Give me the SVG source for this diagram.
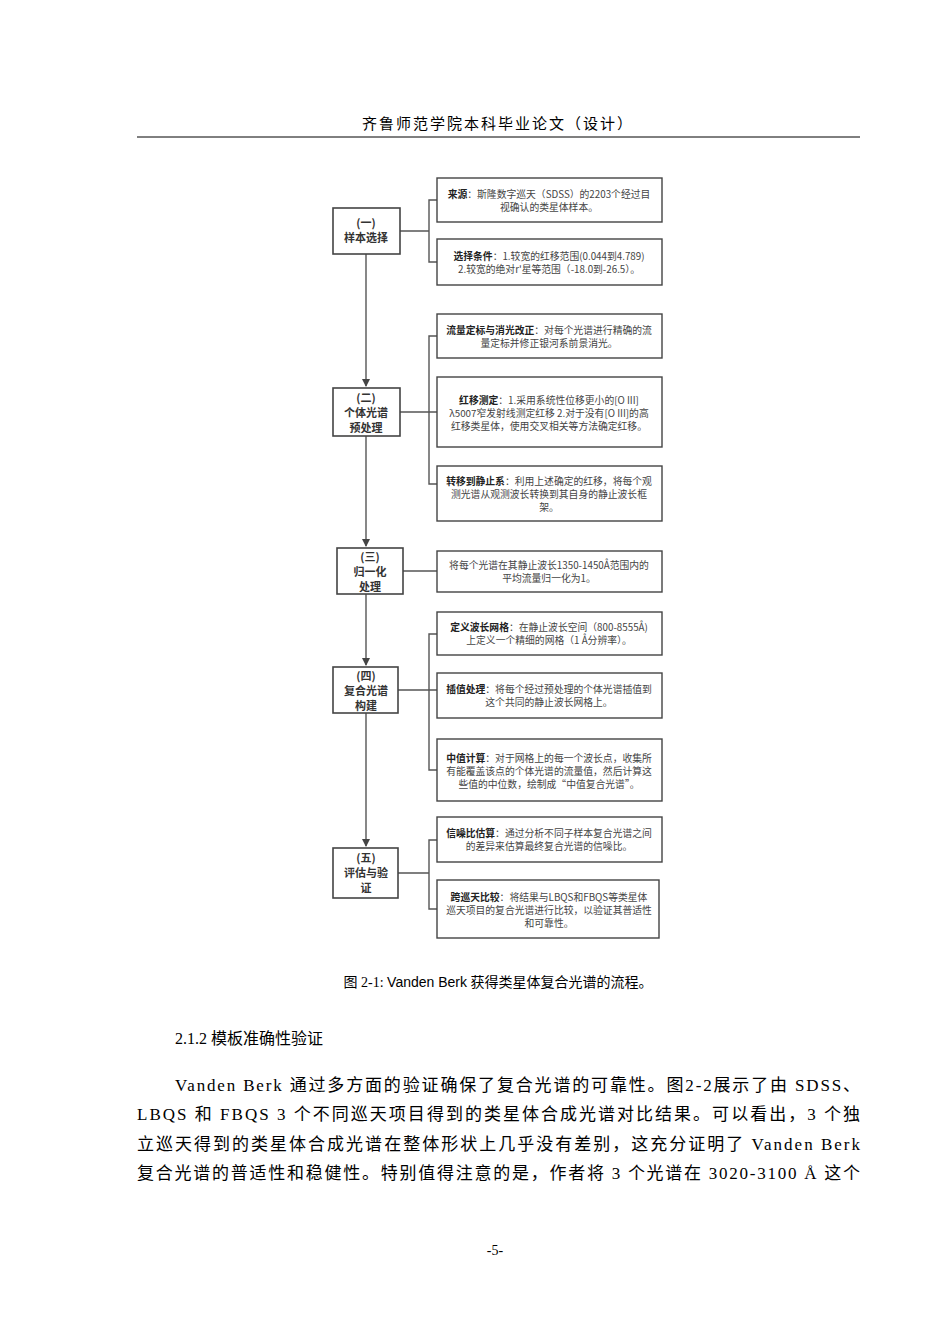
<svg xmlns="http://www.w3.org/2000/svg" width="950" height="1344" viewBox="0 0 950 1344">
<style>
.pg{font-family:"Liberation Serif","Noto Sans CJK SC",serif;fill:#000}
.n{fill:#fff;stroke:#444;stroke-width:1.6}
.nt{font-family:"Noto Sans CJK SC",sans-serif;font-size:11px;font-weight:bold;fill:#333;text-anchor:middle}
.d{fill:#fff;stroke:#444;stroke-width:1.4}
.dt{font-family:"Noto Sans CJK SC",sans-serif;font-size:9.8px;fill:#444;text-anchor:middle}
.dt tspan.b{font-weight:bold;fill:#222}
.c{fill:none;stroke:#555;stroke-width:1.4}
</style>
<defs><marker id="a" markerWidth="8" markerHeight="8" refX="7" refY="4" orient="auto" markerUnits="userSpaceOnUse"><path d="M0,0 L8,4 L0,8 Z" fill="#444"/></marker></defs>
<rect width="950" height="1344" fill="#fff"/>
<text class="pg" x="498" y="129" font-size="15" text-anchor="middle" letter-spacing="2">齐鲁师范学院本科毕业论文（设计）</text>
<line x1="137" y1="137" x2="860" y2="137" stroke="#000" stroke-width="1"/>
<g id="connectors">
<path class="c" d="M366,254 V386" marker-end="url(#a)"/>
<path class="c" d="M366,436 V546" marker-end="url(#a)"/>
<path class="c" d="M366,594 V665" marker-end="url(#a)"/>
<path class="c" d="M366,713 V846" marker-end="url(#a)"/>
<path class="c" d="M400,231 H429 M437,200 H429 V262 H437"/>
<path class="c" d="M400,412 H437 M437,336 H429 V484 H437"/>
<path class="c" d="M403,571 H437"/>
<path class="c" d="M398,690 H437 M437,634 H429 V770 H437"/>
<path class="c" d="M398,873 H429 M437,840 H429 V909 H437"/>
</g>
<g id="n1"><rect class="n" x="333" y="208" width="67" height="46"/><text class="nt" x="366" y="227">(一)<tspan x="366" dy="15">样本选择</tspan></text></g>
<g id="n2"><rect class="n" x="333" y="388" width="67" height="48"/><text class="nt" x="366" y="402">(二)<tspan x="366" dy="15">个体光谱</tspan><tspan x="366" dy="15">预处理</tspan></text></g>
<g id="n3"><rect class="n" x="337" y="548" width="66" height="46"/><text class="nt" x="370" y="561">(三)<tspan x="370" dy="15">归一化</tspan><tspan x="370" dy="15">处理</tspan></text></g>
<g id="n4"><rect class="n" x="333" y="667" width="65" height="46"/><text class="nt" x="366" y="680">(四)<tspan x="366" dy="15">复合光谱</tspan><tspan x="366" dy="15">构建</tspan></text></g>
<g id="n5"><rect class="n" x="333" y="848" width="65" height="50"/><text class="nt" x="366" y="862">(五)<tspan x="366" dy="15">评估与验</tspan><tspan x="366" dy="15">证</tspan></text></g>
<g id="d1"><rect class="d" x="437" y="178" width="225" height="44"/><text class="dt" x="549" y="198"><tspan class="b">来源</tspan>：斯隆数字巡天（SDSS）的2203个经过目<tspan x="549" dy="13">视确认的类星体样本。</tspan></text></g>
<g id="d2"><rect class="d" x="437" y="239" width="225" height="46"/><text class="dt" x="549" y="260"><tspan class="b">选择条件</tspan>：1.较宽的红移范围(0.044到4.789)<tspan x="549" dy="13">2.较宽的绝对r'星等范围（-18.0到-26.5）。</tspan></text></g>
<g id="d3"><rect class="d" x="437" y="314" width="225" height="44"/><text class="dt" x="549" y="334"><tspan class="b">流量定标与消光改正</tspan>：对每个光谱进行精确的流<tspan x="549" dy="13">量定标并修正银河系前景消光。</tspan></text></g>
<g id="d4"><rect class="d" x="437" y="377" width="225" height="70"/><text class="dt" x="549" y="404"><tspan class="b">红移测定</tspan>：1.采用系统性位移更小的[O III]<tspan x="549" dy="13">λ5007窄发射线测定红移   2.对于没有[O III]的高</tspan><tspan x="549" dy="13">红移类星体，使用交叉相关等方法确定红移。</tspan></text></g>
<g id="d5"><rect class="d" x="437" y="466" width="225" height="55"/><text class="dt" x="549" y="485"><tspan class="b">转移到静止系</tspan>：利用上述确定的红移，将每个观<tspan x="549" dy="13">测光谱从观测波长转换到其自身的静止波长框</tspan><tspan x="549" dy="13">架。</tspan></text></g>
<g id="d6"><rect class="d" x="437" y="551" width="225" height="41"/><text class="dt" x="549" y="569">将每个光谱在其静止波长1350-1450Å范围内的<tspan x="549" dy="13">平均流量归一化为1。</tspan></text></g>
<g id="d7"><rect class="d" x="437" y="612" width="225" height="43"/><text class="dt" x="549" y="631"><tspan class="b">定义波长网格</tspan>：在静止波长空间（800-8555Å)<tspan x="549" dy="13">上定义一个精细的网格（1 Å分辨率）。</tspan></text></g>
<g id="d8"><rect class="d" x="437" y="673" width="225" height="45"/><text class="dt" x="549" y="693"><tspan class="b">插值处理</tspan>：将每个经过预处理的个体光谱插值到<tspan x="549" dy="13">这个共同的静止波长网格上。</tspan></text></g>
<g id="d9"><rect class="d" x="437" y="739" width="225" height="62"/><text class="dt" x="549" y="762"><tspan class="b">中值计算</tspan>：对于网格上的每一个波长点，收集所<tspan x="549" dy="13">有能覆盖该点的个体光谱的流量值，然后计算这</tspan><tspan x="549" dy="13">些值的中位数，绘制成“中值复合光谱”。</tspan></text></g>
<g id="d10"><rect class="d" x="437" y="817" width="225" height="45"/><text class="dt" x="549" y="837"><tspan class="b">信噪比估算</tspan>：通过分析不同子样本复合光谱之间<tspan x="549" dy="13">的差异来估算最终复合光谱的信噪比。</tspan></text></g>
<g id="d11"><rect class="d" x="437" y="880" width="222" height="58"/><text class="dt" x="549" y="901"><tspan class="b">跨巡天比较</tspan>：将结果与LBQS和FBQS等类星体<tspan x="549" dy="13">巡天项目的复合光谱进行比较，以验证其普适性</tspan><tspan x="549" dy="13">和可靠性。</tspan></text></g>
<text class="pg" x="498" y="987" font-size="14" text-anchor="middle">图 2-1: <tspan font-family="Liberation Sans">Vanden Berk</tspan> 获得类星体复合光谱的流程。</text>
<text class="pg" x="175" y="1044" font-size="16">2.1.2   模板准确性验证</text>
<g class="pg" font-size="17">
<text x="175" y="1091" textLength="685" lengthAdjust="spacing">Vanden Berk 通过多方面的验证确保了复合光谱的可靠性。图2-2展示了由 SDSS、</text>
<text x="137" y="1120" textLength="723" lengthAdjust="spacing">LBQS 和 FBQS 3 个不同巡天项目得到的类星体合成光谱对比结果。可以看出，3 个独</text>
<text x="137" y="1150" textLength="723" lengthAdjust="spacing">立巡天得到的类星体合成光谱在整体形状上几乎没有差别，这充分证明了 Vanden Berk</text>
<text x="137" y="1179" textLength="723" lengthAdjust="spacing">复合光谱的普适性和稳健性。特别值得注意的是，作者将 3 个光谱在 3020-3100 Å 这个</text>
</g>
<text class="pg" x="495" y="1255" font-size="14" text-anchor="middle">-5-</text>
</svg>
